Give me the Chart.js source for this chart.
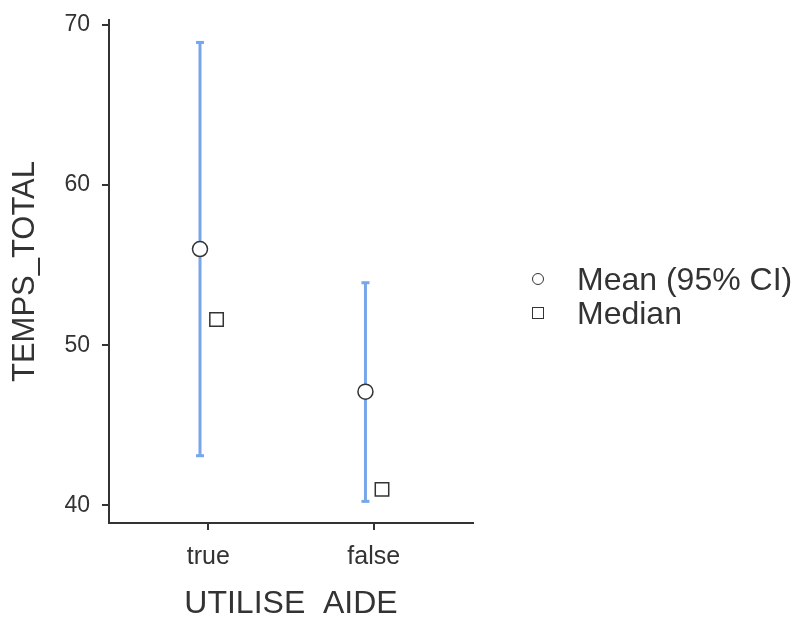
<!DOCTYPE html>
<html>
<head>
<meta charset="utf-8">
<script src="https://cdn.jsdelivr.net/npm/chart.js@4.4.1/dist/chart.umd.min.js"></script>
<style>
  html, body { margin: 0; padding: 0; background: #fff; }
  #wrap { position: relative; width: 801px; height: 617px; }
  #legend {
    position: absolute; left: 532px; top: 262px;
    font-family: 'Liberation Sans', Arial, sans-serif; font-size: 32px; color: #333;
  }
  .item { display: flex; align-items: center; height: 34px; white-space: nowrap; }
  .sym { width: 12px; height: 12px; box-sizing: border-box; border: 1.5px solid #333; margin-right: 33px; }
  .circle { border-radius: 50%; }
</style>
</head>
<body>
<div id="wrap">
  <canvas id="chart" width="801" height="617"></canvas>
  <div id="legend">
    <div class="item"><span class="sym circle"></span>Mean (95% CI)</div>
    <div class="item"><span class="sym"></span>Median</div>
  </div>
</div>
<script>
const categories = ['true', 'false'];
const meanValues = [56.0, 47.1];
const ciLower = [43.1, 40.25];
const ciUpper = [68.9, 53.9];
const medianValues = [51.6, 41.0];
const yTicks = [40, 50, 60, 70];

const CI_COLOR = '#78a6ea';
const INK = '#333333';
const FONT = "'Liberation Sans', Arial, sans-serif";
const SHIFT = 0.05;

const catPos = categories.map((c, i) => i + 1);

// one vertical line per group, caps drawn as 'line' point markers
const ciDatasets = catPos.map((x, i) => ({
  label: 'CI ' + categories[i],
  type: 'line',
  showLine: true,
  data: [{ x: x - SHIFT, y: ciLower[i] }, { x: x - SHIFT, y: ciUpper[i] }],
  borderColor: CI_COLOR,
  borderWidth: 3,
  pointStyle: 'line',
  pointRadius: 4,
  pointHoverRadius: 4,
  pointBorderWidth: 3,
  pointBorderColor: CI_COLOR
}));

new Chart(document.getElementById('chart'), {
  type: 'scatter',
  data: {
    datasets: [
      {
        label: 'Mean (95% CI)',
        data: catPos.map((x, i) => ({ x: x - SHIFT, y: meanValues[i] })),
        pointStyle: 'circle',
        pointRadius: 7.5,
        pointHoverRadius: 7.5,
        pointBackgroundColor: '#fff',
        pointBorderColor: INK,
        pointBorderWidth: 1.5
      },
      {
        label: 'Median',
        data: catPos.map((x, i) => ({ x: x + SHIFT, y: medianValues[i] })),
        pointStyle: 'rect',
        pointRadius: 9.5,
        pointHoverRadius: 9.5,
        pointBackgroundColor: '#fff',
        pointBorderColor: INK,
        pointBorderWidth: 1.5
      },
      ...ciDatasets
    ]
  },
  options: {
    responsive: false,
    animation: false,
    events: [],
    layout: { padding: { left: 0, top: 20, right: 328, bottom: 0 } },
    plugins: { legend: { display: false }, tooltip: { enabled: false } },
    scales: {
      x: {
        type: 'linear',
        min: 0.4,
        max: 2.6,
        afterBuildTicks: (scale) => { scale.ticks = catPos.map((v) => ({ value: v })); },
        afterFit: (scale) => {
          scale.height = 94;
          scale.paddingLeft = 0;
          scale.paddingRight = 0;
        },
        ticks: {
          callback: (v) => categories[v - 1],
          font: { family: FONT, size: 25 },
          color: INK,
          padding: 12
        },
        grid: { drawOnChartArea: false, tickLength: 7, color: INK, lineWidth: 2 },
        border: { color: INK, width: 2 },
        title: {
          display: true,
          text: 'UTILISE  AIDE',
          font: { family: FONT, size: 32, lineHeight: 0.8 },
          color: INK,
          padding: 0
        }
      },
      y: {
        min: 38.9,
        max: 70.3,
        afterBuildTicks: (scale) => { scale.ticks = yTicks.map((v) => ({ value: v })); },
        afterFit: (scale) => {
          scale.width = 109;
          scale.paddingTop = 0;
          scale.paddingBottom = 0;
        },
        ticks: {
          font: { family: FONT, size: 23 },
          color: INK,
          padding: 12
        },
        grid: { drawOnChartArea: false, tickLength: 7, color: INK, lineWidth: 2 },
        border: { color: INK, width: 2 },
        title: {
          display: true,
          text: 'TEMPS_TOTAL',
          font: { family: FONT, size: 31 },
          color: INK,
          padding: { top: 7 }
        }
      }
    }
  }
});
</script>
</body>
</html>
